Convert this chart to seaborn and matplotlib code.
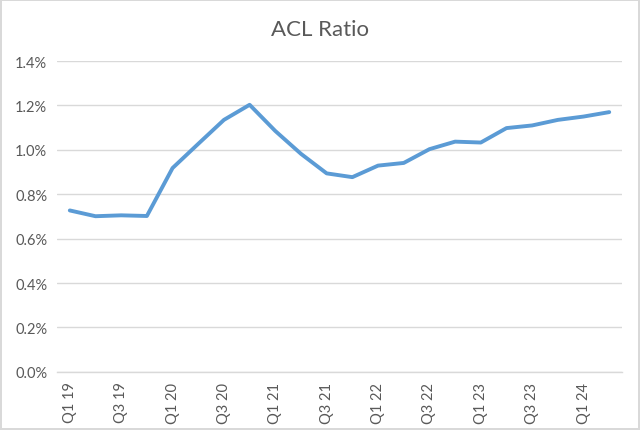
import matplotlib
matplotlib.use("Agg")
import matplotlib.pyplot as plt
import seaborn as sns
import pandas as pd
from matplotlib.ticker import FuncFormatter

quarters = ["Q1 19", "Q2 19", "Q3 19", "Q4 19",
            "Q1 20", "Q2 20", "Q3 20", "Q4 20",
            "Q1 21", "Q2 21", "Q3 21", "Q4 21",
            "Q1 22", "Q2 22", "Q3 22", "Q4 22",
            "Q1 23", "Q2 23", "Q3 23", "Q4 23",
            "Q1 24", "Q2 24"]
acl_ratio = [0.727, 0.701, 0.705, 0.702,
             0.918, 1.027, 1.135, 1.203,
             1.085, 0.982, 0.894, 0.877,
             0.929, 0.941, 1.003, 1.037,
             1.033, 1.098, 1.110, 1.135,
             1.150, 1.170]
title = "ACL Ratio"

df = pd.DataFrame({"quarter": quarters, "ratio": acl_ratio})

sns.set_theme(style="white")
plt.rcParams["font.family"] = ["Lato", "DejaVu Sans"]

fig = plt.figure(figsize=(6.4, 4.31), dpi=100)
fig.patch.set_facecolor("white")
fig.patch.set_edgecolor("#d9d9d9")
fig.patch.set_linewidth(1.5)
ax = fig.add_axes([0.089, 0.135, 0.883, 0.721])

sns.lineplot(data=df, x="quarter", y="ratio", sort=False, ax=ax,
             color="#5b9bd5", linewidth=2.8, solid_capstyle="round",
             solid_joinstyle="round")

ax.set_xlim(-0.5, len(quarters) - 0.5)
ax.set_ylim(0, 1.4)
ax.set_yticks([0, 0.2, 0.4, 0.6, 0.8, 1.0, 1.2, 1.4])
ax.yaxis.set_major_formatter(FuncFormatter(lambda v, p: f"{v:.1f}%"))
ax.set_xticks(range(0, len(quarters), 2))
ax.set_xticklabels(quarters[::2], rotation=90)
ax.grid(axis="y", color="#d9d9d9", linewidth=1)
ax.set_axisbelow(True)
for s in ["top", "right", "left"]:
    ax.spines[s].set_visible(False)
ax.spines["bottom"].set_color("#d9d9d9")
ax.spines["bottom"].set_linewidth(1)
ax.tick_params(axis="both", length=0, labelsize=10.5, labelcolor="#595959", pad=7)
ax.set_xlabel("")
ax.set_ylabel("")
fig.text(0.5, 0.93, title, ha="center", va="center", fontsize=16, color="#595959")

fig.savefig("out.png", dpi=100, facecolor=fig.get_facecolor(), edgecolor=fig.get_edgecolor())
